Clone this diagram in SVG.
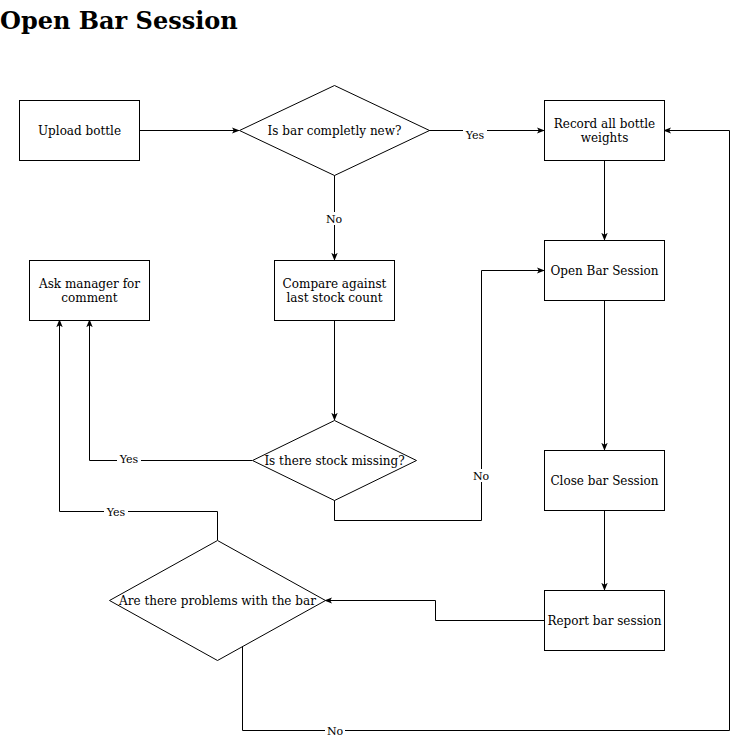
<svg xmlns="http://www.w3.org/2000/svg" width="738" height="739" viewBox="0 0 738 739">
<defs>
<marker id="arr" viewBox="0 0 10 10" refX="9" refY="5" markerWidth="8" markerHeight="8" orient="auto" markerUnits="userSpaceOnUse">
<path d="M0,1 L10,5 L0,9 L2.5,5 Z" fill="#000"/>
</marker>
<style>
.n{fill:#fff;stroke:#000;stroke-width:1}
.t{font-family:"DejaVu Serif",serif;font-size:12px;fill:#000;text-anchor:middle}
.e{fill:none;stroke:#000;stroke-width:1;marker-end:url(#arr)}
.l{font-family:"DejaVu Serif",serif;font-size:11px;fill:#000;text-anchor:middle}
.lb{fill:#fff}
</style>
</defs>
<rect width="738" height="739" fill="#fff"/>
<text x="0" y="29" font-family="DejaVu Serif, serif" font-weight="bold" font-size="24">Open Bar Session</text>
<g id="connectors">
<path class="e" d="M139.5,130.5 H239"/>
<path class="e" d="M429,130.5 H544"/>
<path class="e" d="M334.5,175 V260"/>
<path class="e" d="M604.5,160 V240"/>
<path class="e" d="M334.5,320 V420"/>
<path class="e" d="M252,460.5 H89.5 V320"/>
<path class="e" d="M334.5,500 V520.5 H481.5 V270.5 H544"/>
<path class="e" d="M604.5,300 V450"/>
<path class="e" d="M604.5,510 V590"/>
<path class="e" d="M544,620.5 H435.5 V600.5 H325"/>
<path class="e" d="M217.5,540 V511.5 H59.5 V320"/>
<path class="e" d="M242.5,646 V730.5 H729.5 V130.5 H664"/>
<rect class="lb" x="463" y="128" width="24" height="13"/><text class="l" x="475" y="139">Yes</text>
<rect class="lb" x="324" y="212" width="20" height="13"/><text class="l" x="334" y="223">No</text>
<rect class="lb" x="117" y="453" width="24" height="13"/><text class="l" x="129" y="463">Yes</text>
<rect class="lb" x="471" y="469" width="20" height="13"/><text class="l" x="481" y="480">No</text>
<rect class="lb" x="104" y="505" width="24" height="13"/><text class="l" x="116" y="516">Yes</text>
<rect class="lb" x="325" y="724" width="20" height="13"/><text class="l" x="335" y="735">No</text>
</g>
<g id="upload"><rect class="n" x="19.5" y="100.5" width="120" height="60"/><text class="t" x="79.5" y="135">Upload bottle</text></g>
<g id="isnew"><polygon class="n" points="334.5,85.5 429.5,130.5 334.5,175.5 239.5,130.5"/><text class="t" x="334.5" y="135">Is bar completly new?</text></g>
<g id="record"><rect class="n" x="544.5" y="100.5" width="120" height="60"/><text class="t" x="604.5" y="128">Record all bottle</text><text class="t" x="604.5" y="142">weights</text></g>
<g id="open"><rect class="n" x="544.5" y="240.5" width="120" height="60"/><text class="t" x="604.5" y="275">Open Bar Session</text></g>
<g id="ask"><rect class="n" x="29.5" y="260.5" width="120" height="60"/><text class="t" x="89.5" y="288">Ask manager for</text><text class="t" x="89.5" y="302">comment</text></g>
<g id="compare"><rect class="n" x="274.5" y="260.5" width="120" height="60"/><text class="t" x="334.5" y="288">Compare against</text><text class="t" x="334.5" y="302">last stock count</text></g>
<g id="missing"><polygon class="n" points="334.5,420.5 416.5,460.5 334.5,500.5 252.5,460.5"/><text class="t" x="334.5" y="465">Is there stock missing?</text></g>
<g id="close"><rect class="n" x="544.5" y="450.5" width="120" height="60"/><text class="t" x="604.5" y="485">Close bar Session</text></g>
<g id="report"><rect class="n" x="544.5" y="590.5" width="120" height="60"/><text class="t" x="604.5" y="625">Report bar session</text></g>
<g id="problems"><polygon class="n" points="217.5,540.5 325.5,600.5 217.5,660.5 109.5,600.5"/><text class="t" x="217.5" y="605">Are there problems with the bar</text></g>
</svg>
